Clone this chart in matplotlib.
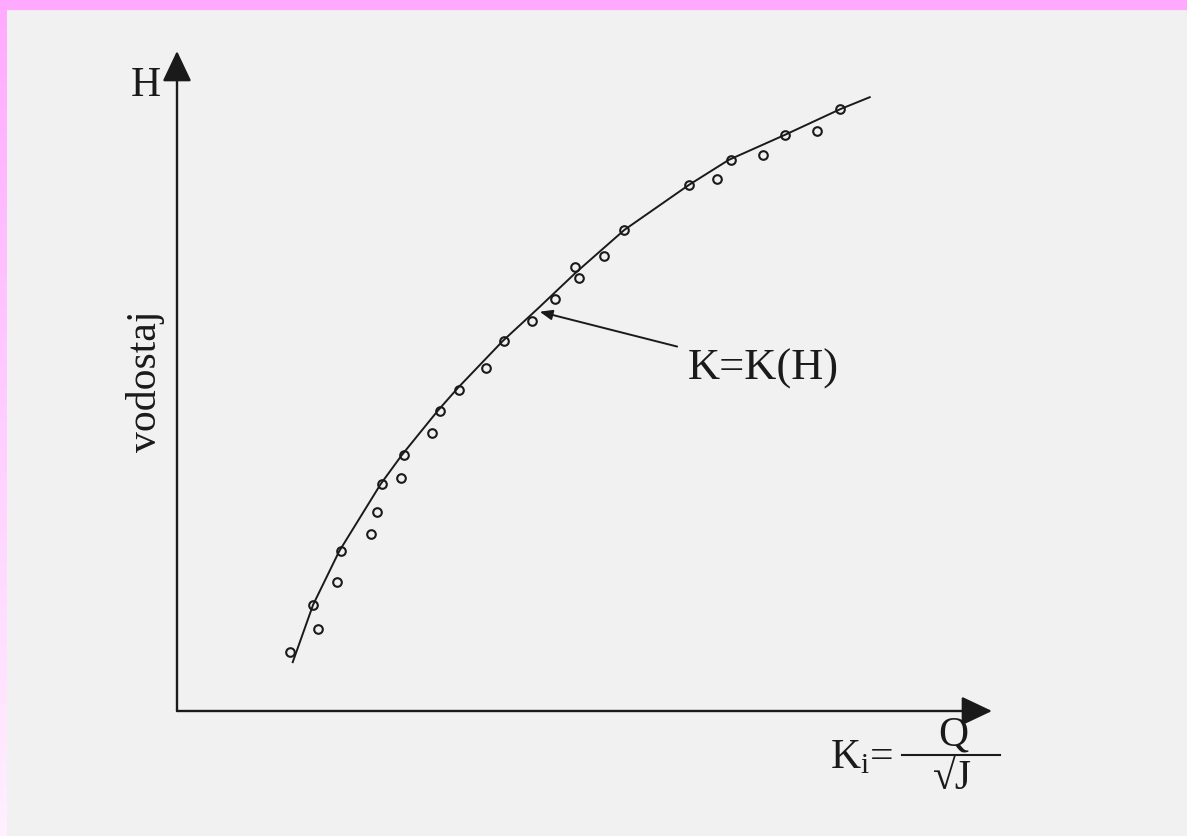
import numpy as np
import matplotlib.pyplot as plt
from matplotlib.patches import Rectangle

plt.rcParams['font.family'] = ['Liberation Serif', 'DejaVu Serif']
plt.rcParams['mathtext.fontset'] = 'custom'
plt.rcParams['mathtext.rm'] = 'Liberation Serif'
plt.rcParams['mathtext.it'] = 'Liberation Serif:italic'

## izmjereni podaci (K, H)
k_mjereno = [1.39, 1.67, 1.73, 1.96, 2.01, 2.38, 2.45, 2.52, 2.75, 2.79,
             3.13, 3.23, 3.46, 3.79, 4.01, 4.36, 4.64, 4.88, 4.93, 5.24,
             5.49, 6.28, 6.63, 6.80, 7.19, 7.46, 7.85, 8.14]
h_mjereno = [0.89, 1.61, 1.24, 1.96, 2.42, 2.68, 3.02, 3.44, 3.53, 3.88,
             4.21, 4.55, 4.86, 5.20, 5.61, 5.91, 6.24, 6.73, 6.56, 6.89,
             7.29, 7.97, 8.06, 8.35, 8.42, 8.73, 8.79, 9.12]

## krivulja K=K(H)
k_krivulja = [1.42, 1.67, 1.99, 2.50, 2.76, 3.20, 3.45, 4.00, 4.43, 4.90,
              5.49, 6.28, 6.77, 7.46, 8.14, 8.50]
h_krivulja = [0.74, 1.61, 2.42, 3.44, 3.88, 4.55, 4.90, 5.61, 6.10, 6.65,
              7.29, 7.97, 8.35, 8.73, 9.12, 9.30]

# tocka na koju pokazuje strelica
k_oznaka, h_oznaka = 4.45, 6.05

pozadina = '#f1f1f1'
crna = '#1a1a1a'

fig = plt.figure(figsize=(11.87, 8.36), dpi=100, facecolor=pozadina)

# rozi rub skena (gore i lijevo)
fig.patches.append(Rectangle((0, 1 - 9 / 836), 1, 9 / 836, transform=fig.transFigure,
                             color='#ffaaff', zorder=0))
rub = fig.add_axes([0, 0, 7 / 1187, 1 - 9 / 836])
rub.imshow(np.linspace(0, 1, 100).reshape(-1, 1), aspect='auto',
           cmap=plt.matplotlib.colors.LinearSegmentedColormap.from_list('r', ['#ffaaff', '#fff0ff']))
rub.axis('off')

ax = fig.add_axes([177 / 1187, (836 - 711) / 836, 815 / 1187, 660 / 836])
ax.set_facecolor(pozadina)
ax.set_xlim(0, 10)
ax.set_ylim(0, 10)
for s in ax.spines.values():
    s.set_visible(False)
ax.set_xticks([])
ax.set_yticks([])

# osi sa strelicama
stil = '-|>,head_length=0.95,head_width=0.45'
ax.annotate('', xy=(1, 0), xytext=(0, 0), xycoords='axes fraction',
            arrowprops=dict(arrowstyle=stil, color=crna, lw=1.7, mutation_scale=20,
                            shrinkA=0, shrinkB=0))
ax.annotate('', xy=(0, 1), xytext=(0, 0), xycoords='axes fraction',
            arrowprops=dict(arrowstyle=stil, color=crna, lw=1.7, mutation_scale=20,
                            shrinkA=0, shrinkB=0))

ax.plot(k_krivulja, h_krivulja, color=crna, lw=1.4)
ax.plot(k_mjereno, h_mjereno, 'o', ms=6.2, mfc='none', mec=crna, mew=1.5)

ax.annotate('K=K(H)', xy=(k_oznaka, h_oznaka), xytext=(0.627, 0.519),
            textcoords='axes fraction', fontsize=32, va='center', ha='left', color=crna,
            arrowprops=dict(arrowstyle='-|>,head_length=0.5,head_width=0.2', color=crna,
                            lw=1.4, shrinkA=6, shrinkB=0, mutation_scale=15))

ax.text(-0.0196, 0.948, 'H', transform=ax.transAxes, fontsize=30, ha='right', va='center',
        color=crna)
ax.text(-0.039, 0.50, 'vodostaj', transform=ax.transAxes, fontsize=30, rotation=90,
        ha='center', va='center', color=crna)

# oznaka x osi: K_i = Q / sqrt(J)
ax.text(0.801, -0.071, r'K$_\mathrm{i}$=', transform=ax.transAxes, fontsize=30,
        ha='left', va='center', color=crna)
ax.text(0.952, -0.036, 'Q', transform=ax.transAxes, fontsize=30, ha='center',
        va='center', color=crna)
ax.plot([0.890, 1.010], [-0.0667, -0.0667], transform=ax.transAxes, color=crna, lw=1.5,
        clip_on=False)
ax.text(0.951, -0.103, '√J', transform=ax.transAxes, fontsize=30, ha='center',
        va='center', color=crna)

fig.savefig('out.png', dpi=100, facecolor=pozadina)
